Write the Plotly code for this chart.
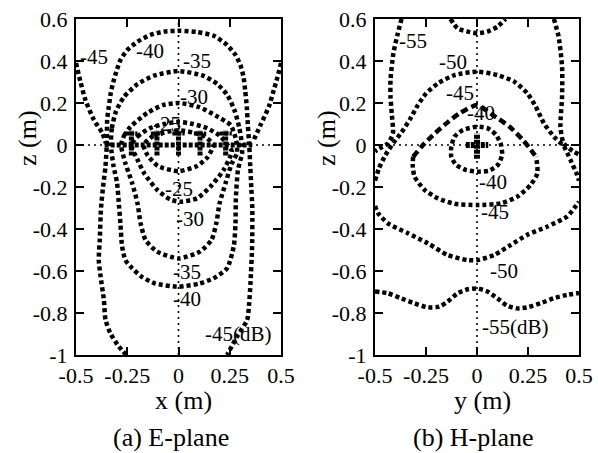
import plotly.graph_objects as go

# ---------------- E-plane (left) contour data (x in m, z in m) ----------------
E45_L_X = [-0.5, -0.478, -0.454, -0.413, -0.372, -0.355]
E45_L_Z = [0.39, 0.30, 0.214, 0.12, 0.057, 0.01]
E45_R_X = [0.5, 0.482, 0.465, 0.441, 0.40, 0.365]
E45_R_Z = [0.39, 0.32, 0.262, 0.183, 0.095, 0.02]

E40_X = [-0.255, -0.291, -0.332, -0.356, -0.364, -0.38, -0.389, -0.384, -0.378, -0.368, -0.356, -0.35,
         -0.348, -0.34, -0.33, -0.318, -0.3, -0.283, -0.25, -0.2, -0.137, -0.072, 0.01, 0.091, 0.172,
         0.237, 0.278, 0.302, 0.317, 0.325, 0.333, 0.338, 0.345, 0.35, 0.355, 0.36, 0.359, 0.351, 0.345,
         0.335, 0.285, 0.237]
E40_Z = [-1.0, -0.96, -0.897, -0.833, -0.738, -0.627, -0.548, -0.45, -0.3, -0.2, -0.1, 0.0,
         0.119, 0.182, 0.25, 0.3, 0.36, 0.405, 0.452, 0.492, 0.524, 0.54, 0.544, 0.538, 0.52,
         0.476, 0.429, 0.381, 0.325, 0.262, 0.183, 0.1, 0.0, -0.1, -0.2, -0.3, -0.484, -0.66, -0.75,
         -0.833, -0.913, -1.0]

E35_X = [-0.33, -0.325, -0.305, -0.265, -0.2, -0.12, 0.0, 0.12, 0.19, 0.24, 0.275, 0.297, 0.31,
         0.31, 0.29, 0.28, 0.278, 0.27, 0.237, 0.17, 0.1, 0.0, -0.115, -0.18, -0.226, -0.259, -0.275,
         -0.283, -0.29, -0.3, -0.317, -0.33]
E35_Z = [0.0, 0.08, 0.16, 0.23, 0.29, 0.33, 0.352, 0.33, 0.29, 0.235, 0.16, 0.08, 0.0,
         -0.04, -0.12, -0.25, -0.373, -0.48, -0.587, -0.635, -0.66, -0.675, -0.659, -0.627, -0.587, -0.548, -0.484,
         -0.38, -0.29, -0.18, -0.1, 0.0]

E30_X = [-0.28, -0.265, -0.234, -0.153, -0.076, 0.004, 0.102, 0.182, 0.254, 0.275, 0.285,
         0.285, 0.259, 0.23, 0.2, 0.185, 0.161, 0.104, 0.0, -0.104, -0.161, -0.185, -0.2, -0.226, -0.259, -0.28]
E30_Z = [0.0, 0.045, 0.087, 0.152, 0.19, 0.2, 0.18, 0.14, 0.095, 0.045, 0.0,
         -0.04, -0.09, -0.18, -0.28, -0.37, -0.452, -0.508, -0.54, -0.508, -0.452, -0.373, -0.278, -0.182, -0.087, 0.0]

E25_X = [-0.23, -0.2, -0.14, -0.07, 0.0, 0.07, 0.14, 0.2, 0.24,
         0.26, 0.22, 0.156, 0.09, 0.01, -0.039, -0.104, -0.167, -0.2, -0.23]
E25_Z = [0.0, 0.04, 0.08, 0.1, 0.11, 0.1, 0.08, 0.045, 0.0,
         -0.03, -0.119, -0.198, -0.254, -0.27, -0.26, -0.214, -0.135, -0.07, 0.0]

E20_X = [-0.17, -0.12, 0.0, 0.12, 0.17, 0.14, 0.09, 0.0, -0.1, -0.15, -0.17]
E20_Z = [0.0, 0.045, 0.07, 0.045, 0.0, -0.06, -0.1, -0.125, -0.1, -0.05, 0.0]

E_AXIS_ROW_X = [-0.36, 0.36]
E_CROSS_X = [-0.23, -0.105, 0.0, 0.105, 0.23]
E_CROSS_Z = [-0.05, 0.07]
E_CROSS_ARM = 0.03

E_LABELS = ["-45", "-40", "-35", "-30", "-25", "-25", "-30", "-35", "-40", "-45(dB)"]
E_LAB_X = [-0.41, -0.137, 0.088, 0.075, -0.054, 0.0, 0.054, 0.04, 0.04, 0.293]
E_LAB_Z = [0.42, 0.448, 0.40, 0.23, 0.10, -0.21, -0.35, -0.605, -0.733, -0.9]

# ---------------- H-plane (right) contour data (y in m, z in m) ----------------
H55_L_X = [-0.37, -0.388, -0.41, -0.424, -0.424, -0.417, -0.412, -0.435, -0.466, -0.5]
H55_L_Z = [0.6, 0.532, 0.436, 0.31, 0.23, 0.14, 0.056, 0.008, -0.01, -0.03]
H55_R_X = [0.377, 0.4, 0.417, 0.417, 0.409, 0.425, 0.474, 0.5]
H55_R_Z = [0.6, 0.516, 0.373, 0.23, 0.087, 0.008, -0.032, -0.045]
H55_T_X = [-0.13, -0.095, -0.046, 0.003, 0.051, 0.1, 0.14]
H55_T_Z = [0.6, 0.555, 0.54, 0.532, 0.54, 0.563, 0.6]

H50_X = [-0.5, -0.48, -0.45, -0.41, -0.37, -0.33, -0.29, -0.25, -0.19, -0.11, 0.0, 0.1, 0.182,
         0.247, 0.288, 0.328, 0.377, 0.426, 0.458, 0.49, 0.5]
H50_Z = [-0.17, -0.11, -0.05, 0.01, 0.06, 0.12, 0.19, 0.245, 0.294, 0.333, 0.349, 0.333, 0.302,
         0.246, 0.183, 0.103, 0.04, -0.007, -0.071, -0.14, -0.17]

H45_X = [-0.5, -0.485, -0.437, -0.339, -0.241, -0.144, -0.046, 0.003, 0.084, 0.165, 0.246, 0.343,
         0.441, 0.482, 0.5]
H45_Z = [-0.29, -0.325, -0.373, -0.42, -0.468, -0.524, -0.548, -0.548, -0.524, -0.476, -0.428, -0.389,
         -0.341, -0.294, -0.27]

H55B_X = [-0.5, -0.437, -0.372, -0.307, -0.241, -0.185, -0.144, -0.095, -0.046, 0.003, 0.051, 0.1,
          0.148, 0.197, 0.246, 0.311, 0.376, 0.441, 0.5]
H55B_Z = [-0.698, -0.706, -0.73, -0.754, -0.773, -0.77, -0.746, -0.706, -0.687, -0.683, -0.698, -0.73,
          -0.766, -0.778, -0.773, -0.754, -0.73, -0.714, -0.705]

# -40 contour: upper "roof" part (dashed-looking) and lower loop part (dotted)
H40_TOP_X = [-0.313, -0.272, -0.215, -0.15, -0.085, 0.0, 0.077, 0.16, 0.225, 0.265, 0.29]
H40_TOP_Z = [-0.056, -0.008, 0.048, 0.103, 0.151, 0.19, 0.143, 0.087, 0.024, -0.024, -0.056]
H40_BOT_X = [-0.313, -0.315, -0.306, -0.257, -0.192, -0.11, 0.003, 0.117, 0.198, 0.263, 0.296, 0.29]
H40_BOT_Z = [-0.056, -0.1, -0.151, -0.214, -0.254, -0.28, -0.286, -0.278, -0.246, -0.19, -0.135, -0.056]

H35_X = [0.0, -0.069, -0.11, -0.126, -0.126, -0.102, -0.053, 0.005, 0.061, 0.102, 0.123, 0.118,
         0.094, 0.053, 0.0]
H35_Z = [0.087, 0.071, 0.04, -0.008, -0.056, -0.095, -0.119, -0.127, -0.122, -0.095, -0.048, 0.0,
         0.048, 0.079, 0.087]

H_CROSS_V = [-0.065, 0.055]
H_CROSS_H = [-0.055, 0.055]

H_LABELS = ["-55", "-50", "-45", "-40", "-40", "-45", "-50", "-55(dB)"]
H_LAB_X = [-0.315, -0.12, -0.085, 0.022, 0.076, 0.09, 0.134, 0.19]
H_LAB_Z = [0.495, 0.393, 0.25, 0.152, -0.176, -0.32, -0.6, -0.867]

# ---------------- axes ----------------
X_TICKS = [-0.5, -0.25, 0, 0.25, 0.5]
X_TICK_TEXT = ["-0.5", "-0.25", "0", "0.25", "0.5"]
Z_TICKS = [0.6, 0.4, 0.2, 0, -0.2, -0.4, -0.6, -0.8, -1]
Z_TICK_TEXT = ["0.6", "0.4", "0.2", "0", "-0.2", "-0.4", "-0.6", "-0.8", "-1"]
X_RANGE = [-0.5, 0.5]
Z_RANGE = [-1, 0.6]

FONT = "Liberation Serif, Times New Roman, DejaVu Serif, serif"
DOT = "4px,3px"
LW = 4.5

fig = go.Figure()


def curve(x, z, ax, dash=DOT, width=LW):
    fig.add_trace(go.Scatter(x=x, y=z, mode="lines", xaxis=ax[0], yaxis=ax[1],
                             line=dict(color="black", width=width, dash=dash, shape="spline", smoothing=0.6),
                             hoverinfo="skip", showlegend=False))


def seg(x, z, ax, dash=DOT, width=LW):
    fig.add_trace(go.Scatter(x=x, y=z, mode="lines", xaxis=ax[0], yaxis=ax[1],
                             line=dict(color="black", width=width, dash=dash),
                             hoverinfo="skip", showlegend=False))


A1 = ("x", "y")
A2 = ("x2", "y2")

# reference dotted crosshairs
for ax in (A1, A2):
    seg([X_RANGE[0], X_RANGE[1]], [0, 0], ax, dash="2px,4px", width=1.6)
    seg([0, 0], [Z_RANGE[0], Z_RANGE[1]], ax, dash="2px,4px", width=1.6)

# E-plane contours
for cx, cz in [(E45_L_X, E45_L_Z), (E45_R_X, E45_R_Z), (E40_X, E40_Z), (E35_X, E35_Z),
               (E30_X, E30_Z), (E25_X, E25_Z), (E20_X, E20_Z)]:
    curve(cx, cz, A1)
seg(E_AXIS_ROW_X, [0, 0], A1, dash="4px,2px", width=5)
for cx in E_CROSS_X:
    seg([cx, cx], E_CROSS_Z, A1, dash="4px,1px", width=5)
    seg([cx - E_CROSS_ARM, cx + E_CROSS_ARM], [E_CROSS_Z[1] - 0.015] * 2, A1, dash="4px,1px", width=4)

# H-plane contours
for cx, cz in [(H55_L_X, H55_L_Z), (H55_R_X, H55_R_Z), (H55_T_X, H55_T_Z), (H50_X, H50_Z),
               (H45_X, H45_Z), (H55B_X, H55B_Z), (H35_X, H35_Z), (H40_BOT_X, H40_BOT_Z)]:
    curve(cx, cz, A2)
curve(H40_TOP_X, H40_TOP_Z, A2, dash="7px,4px")
seg([0, 0], H_CROSS_V, A2, dash="4px,1px", width=6)
seg(H_CROSS_H, [0, 0], A2, dash="4px,1px", width=6)

ann = []
for t, lx, lz in zip(E_LABELS, E_LAB_X, E_LAB_Z):
    ann.append(dict(text=t, x=lx, y=lz, xref="x", yref="y", showarrow=False,
                    font=dict(family=FONT, size=21, color="black")))
for t, lx, lz in zip(H_LABELS, H_LAB_X, H_LAB_Z):
    ann.append(dict(text=t, x=lx, y=lz, xref="x2", yref="y2", showarrow=False,
                    font=dict(family=FONT, size=21, color="black")))

W, H = 598, 453


def px(v):
    return v / W


def py(v):
    return 1 - v / H


titles = [("x (m)", 183, 400), ("(a) E-plane", 171, 437), ("y (m)", 482, 400), ("(b) H-plane", 473, 437)]
for t, xx, yy in titles:
    ann.append(dict(text=t, x=px(xx), y=py(yy), xref="paper", yref="paper", showarrow=False,
                    xanchor="center", yanchor="middle", font=dict(family=FONT, size=26, color="black")))
for xx in (27, 326):
    ann.append(dict(text="z (m)", x=px(xx), y=py(138), xref="paper", yref="paper", showarrow=False,
                    textangle=-90, xanchor="center", yanchor="middle",
                    font=dict(family=FONT, size=26, color="black")))

axis_common = dict(showline=True, linecolor="black", linewidth=2, mirror="ticks", ticks="inside",
                   ticklen=8, tickwidth=1.5, tickcolor="black", showgrid=False, zeroline=False,
                   automargin=False,
                   tickfont=dict(family=FONT, size=22, color="black"), fixedrange=True)

fig.update_layout(
    width=W, height=H, margin=dict(l=0, r=0, t=0, b=0, autoexpand=False),
    paper_bgcolor="white", plot_bgcolor="white", showlegend=False,
    xaxis=dict(domain=[px(76), px(281)], range=X_RANGE, tickvals=X_TICKS, ticktext=X_TICK_TEXT,
               anchor="y", ticklabelstandoff=0, **axis_common),
    yaxis=dict(domain=[py(355), py(19)], range=Z_RANGE, tickvals=Z_TICKS, ticktext=Z_TICK_TEXT,
               anchor="x", ticklabelstandoff=2, **axis_common),
    xaxis2=dict(domain=[px(375), px(579)], range=X_RANGE, tickvals=X_TICKS, ticktext=X_TICK_TEXT,
                anchor="y2", ticklabelstandoff=0, **axis_common),
    yaxis2=dict(domain=[py(355), py(19)], range=Z_RANGE, tickvals=Z_TICKS, ticktext=Z_TICK_TEXT,
                anchor="x2", ticklabelstandoff=2, **axis_common),
    annotations=ann,
)

fig.write_html("out.html", config={"displayModeBar": False},
               post_script="document.body.style.margin='0';document.body.style.overflow='hidden';")
